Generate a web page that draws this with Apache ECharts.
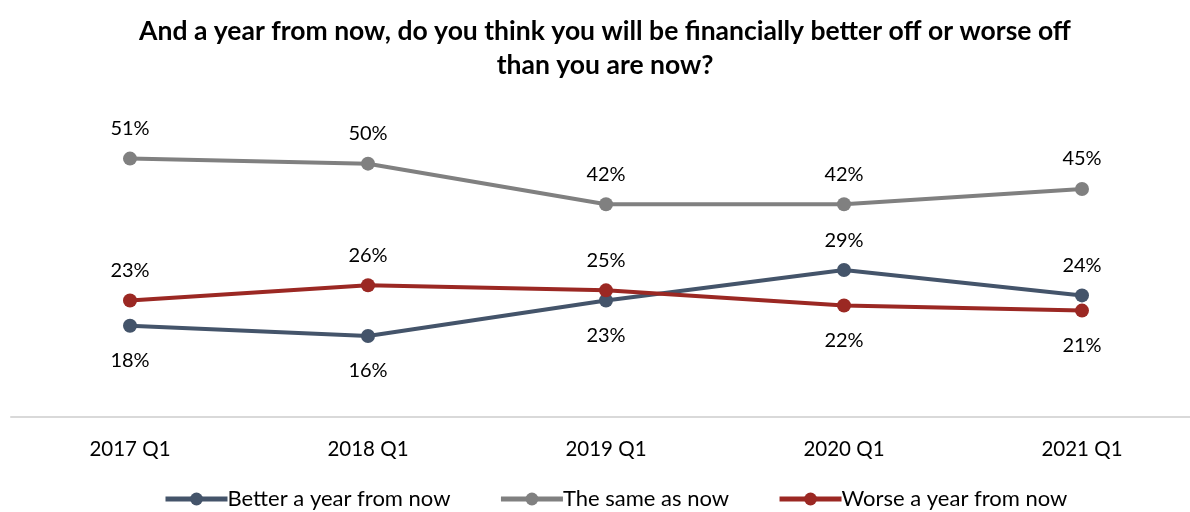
<!DOCTYPE html>
<html>
<head>
<meta charset="utf-8">
<script src="https://cdn.jsdelivr.net/npm/echarts@6/dist/echarts.min.js"></script>
<style>
  html, body { margin: 0; padding: 0; background: #fff; }
  #chart { width: 1190px; height: 512px; }
</style>
</head>
<body>
<div id="chart"></div>
<script>
var categories = ["2017 Q1", "2018 Q1", "2019 Q1", "2020 Q1", "2021 Q1"];
var betterValues = [18, 16, 23, 29, 24];
var sameValues = [51, 50, 42, 42, 45];
var worseValues = [23, 26, 25, 22, 21];
// label above (true) or below (false) each point
var betterAbove = [false, false, false, true, true];
var worseAbove = [true, true, true, false, false];

var FONT = "Lato";

function makeData(vals, above) {
    var aOut = [];
    for (var i in vals) {
        var aItem = { value: vals[i] };
        if (above && !above[i]) {
            aItem.label = { position: "bottom", distance: 18 };
        }
        aOut.push(aItem);
    }
    return aOut;
}

function makeSeries(name, color, vals, above) {
    return {
        name: name,
        type: "line",
        xAxisIndex: 0,
        yAxisIndex: 0,
        data: makeData(vals, above),
        symbol: "circle",
        symbolSize: 14,
        lineStyle: { width: 4, color: color },
        itemStyle: { color: color },
        label: {
            show: true,
            position: "top",
            distance: 13,
            formatter: "{c}%",
            color: "#000",
            fontFamily: FONT,
            fontSize: 20
        }
    };
}

var aCharts = echarts.init(document.getElementById("chart"));
aCharts.setOption({
    animation: false,
    title: {
        text: "And a year from now, do you think you will be financially better off or worse off\nthan you are now?",
        left: 600,
        top: 9,
        textAlign: "center",
        textStyle: {
            fontFamily: FONT,
            fontWeight: "bold",
            fontSize: 26.5,
            lineHeight: 34,
            color: "#000"
        }
    },
    legend: {
        bottom: -3,
        left: 158,
        itemWidth: 62,
        itemHeight: 16,
        itemGap: 48,
        lineStyle: { width: 5 },
        textStyle: { fontFamily: FONT, fontSize: 22, color: "#000", padding: [0, 0, 0, -5] }
    },
    grid: [
        { left: 130, right: 108, top: 113, bottom: 95 },
        { left: 11, right: 0, top: 113, bottom: 95 }
    ],
    xAxis: [
        {
            type: "category",
            gridIndex: 0,
            data: categories,
            boundaryGap: false,
            axisLine: { show: false },
            axisTick: { show: false },
            axisLabel: { fontFamily: FONT, fontSize: 20.5, color: "#000", margin: 22 }
        },
        {
            type: "category",
            gridIndex: 1,
            data: categories,
            axisLine: { lineStyle: { color: "#D9D9D9", width: 2 } },
            axisTick: { show: false },
            axisLabel: { show: false }
        }
    ],
    yAxis: [
        { type: "value", gridIndex: 0, min: 0, max: 60, show: false, splitLine: { show: false } },
        { type: "value", gridIndex: 1, min: 0, max: 60, show: false, splitLine: { show: false } }
    ],
    series: [
        makeSeries("Better a year from now", "#44546A", betterValues, betterAbove),
        makeSeries("The same as now", "#808080", sameValues, null),
        makeSeries("Worse a year from now", "#9B2823", worseValues, worseAbove)
    ]
});
</script>
</body>
</html>
